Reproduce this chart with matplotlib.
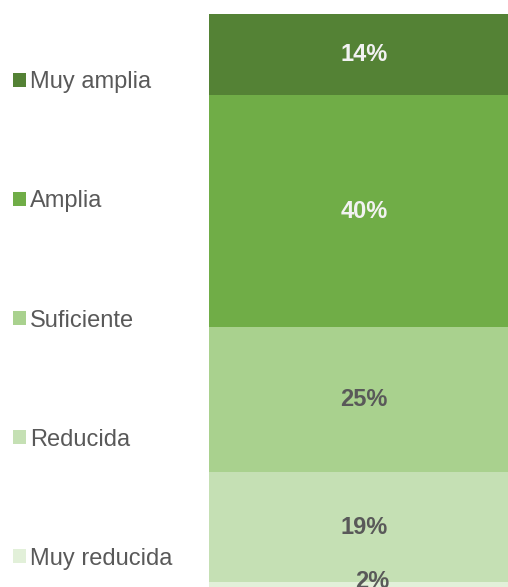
import matplotlib
matplotlib.use("Agg")
import matplotlib.pyplot as plt
from matplotlib.patches import Patch

plt.rcParams['font.family'] = ['Liberation Sans', 'DejaVu Sans']

# Survey answer categories, bottom to top of the stacked bar
categories = ["Muy reducida", "Reducida", "Suficiente", "Amplia", "Muy amplia"]
shares = [2, 19, 25, 40, 14]
colors = ["#E2F0D9", "#C5E0B4", "#A9D18E", "#70AD47", "#548235"]
label_colors = ["#595959", "#595959", "#595959", "#F2F2F2", "#F2F2F2"]

W, H = 508, 587
fig = plt.figure(figsize=(W / 100, H / 100), dpi=100)

# Single column axes; it runs past the right and bottom edges of the canvas
px_per_pct = 5.8
top_px = 14
ax = fig.add_axes([209 / W, (H - top_px - 100 * px_per_pct) / H,
                   310 / W, 100 * px_per_pct / H])
ax.set_xlim(-0.5, 0.5)
ax.set_ylim(0, 100)
ax.axis("off")

fs = 17
bottom = 0
for cat, val, col, lc in zip(categories, shares, colors, label_colors):
    ax.bar(0, val, width=1.0, bottom=bottom, color=col, linewidth=0)
    offset = (6, 5) if val < 5 else (0, 0)
    ax.annotate(f"{val}%", xy=(0, bottom + val / 2), xytext=offset,
                textcoords="offset points", ha="center", va="center",
                fontsize=fs, fontweight="bold", color=lc,
                annotation_clip=False)
    bottom += val

handles = [Patch(facecolor=c, edgecolor="none") for c in colors[::-1]]
leg = fig.legend(handles, categories[::-1], loc="upper left",
                 bbox_to_anchor=(4 / W, 1 - 62 / H), frameon=False,
                 fontsize=fs, handlelength=0.55, handleheight=0.55,
                 handletextpad=0.15, labelspacing=4.11, borderaxespad=0)
for t in leg.get_texts():
    t.set_color("#595959")

fig.savefig("out.png", dpi=100)
